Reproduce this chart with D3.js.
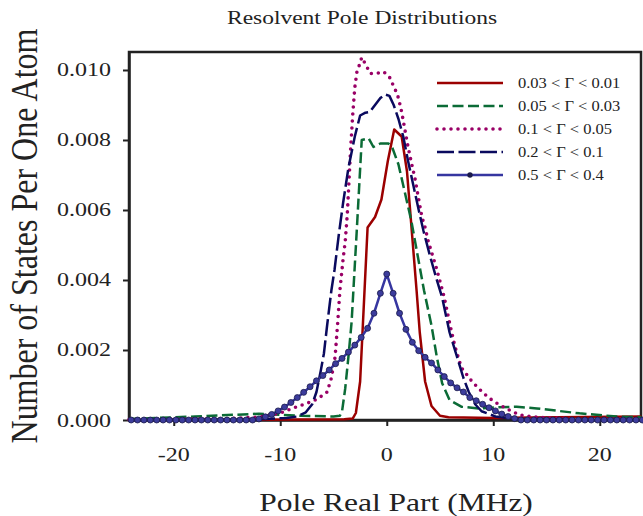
<!DOCTYPE html>
<html>
<head>
<meta charset="utf-8">
<script src="https://cdn.jsdelivr.net/npm/d3@7"></script>
<style>
body { margin: 0; background: #fff; }
text { font-family: "Liberation Serif", "Times New Roman", serif; fill: #222; }
</style>
</head>
<body>
<svg width="643" height="516"></svg>
<script>
// values (x in MHz, y in states per atom)
var redX = [-24.2, -12, -4, -3.2, -2.9, -2.5, -1.8, -1.1, -0.5, 0.1, 0.7, 1.4, 1.9, 2.8, 3.1, 3.6, 4.2, 5.0, 5.8, 10, 16, 23.9]
var redY = [0, 0.00001, 0.00002, 0.00004, 0.0002, 0.0011, 0.0055, 0.0058, 0.0063, 0.0074, 0.0083, 0.0081, 0.0071, 0.0037, 0.0025, 0.0011, 0.0004, 0.00012, 0.00008, 0.00006, 0.00008, 0.0001]

var greenX = [-24.2, -18, -12, -8, -5, -4.4, -4.2, -3.9, -3.6, -3.3, -2.8, -2.35, -1.7, -1.25, -0.6, 0.15, 0.5, 1.1, 1.7, 2.3, 2.9, 3.5, 4.2, 4.7, 5.2, 5.9, 7.0, 8.6, 10.2, 12.2, 14.1, 18.1, 21.6, 23.9]
var greenY = [0.00003, 0.0001, 0.00018, 0.00012, 0.0001, 0.00012, 0.00024, 0.0009, 0.0018, 0.0028, 0.0055, 0.008, 0.00805, 0.0078, 0.0079, 0.0079, 0.0078, 0.0073, 0.0065, 0.0057, 0.0047, 0.0037, 0.0027, 0.0018, 0.00105, 0.00057, 0.00038, 0.00033, 0.00036, 0.00038, 0.00033, 0.00019, 0.0001, 0.00008]

var purpleX = [-24.2, -16, -12, -10, -8.7, -7.3, -6.5, -5.6, -5.2, -4.85, -4.6, -4.4, -4.1, -3.9, -3.7, -3.55, -3.4, -3.2, -3.0, -2.8, -2.5, -2.35, -1.95, -1.55, -0.95, -0.3, 0.25, 0.55, 0.85, 1.1, 1.4, 1.7, 2.0, 2.35, 2.65, 3.0, 3.3, 3.6, 3.9, 4.7, 5.4, 5.95, 6.4, 7.0, 8.0, 8.7, 9.4, 10.1, 10.8, 11.4, 12.5, 14.4, 18, 23.9]
var purpleY = [0.00001, 0.00003, 0.00008, 0.0002, 0.00035, 0.0005, 0.0006, 0.0008, 0.0012, 0.0018, 0.0028, 0.0037, 0.0046, 0.0051, 0.0059, 0.0068, 0.0077, 0.0087, 0.0095, 0.00995, 0.0102, 0.01036, 0.01014, 0.0099, 0.0099, 0.00995, 0.0098, 0.0096, 0.0094, 0.0092, 0.0088, 0.0083, 0.0078, 0.0073, 0.0069, 0.0063, 0.0058, 0.0055, 0.0051, 0.0043, 0.0035, 0.0027, 0.0021, 0.0015, 0.0011, 0.00088, 0.00068, 0.00052, 0.0004, 0.0003, 0.00014, 0.00007, 0.00003, 0.00001]

var navyX = [-24.2, -12, -9.4, -8.4, -7.6, -7.0, -6.6, -6.2, -5.9, -5.6, -5.2, -4.9, -4.5, -4.1, -3.6, -3.0, -2.5, -2.0, -1.6, -1.1, -0.6, -0.15, 0.25, 0.65, 1.1, 1.55, 2.0, 2.5, 3.0, 3.45, 4.05, 4.7, 5.2, 5.9, 6.6, 7.2, 7.7, 8.3, 8.9, 10.2, 12, 23.9]
var navyY = [0, 0.00002, 0.00006, 0.0001, 0.00022, 0.00045, 0.0008, 0.0014, 0.0019, 0.0027, 0.0037, 0.0043, 0.0053, 0.0062, 0.0072, 0.0081, 0.0087, 0.00878, 0.0088, 0.009, 0.0092, 0.0093, 0.00926, 0.009, 0.0086, 0.0081, 0.0074, 0.0067, 0.006, 0.0054, 0.0047, 0.004, 0.0035, 0.0025, 0.0018, 0.0012, 0.0008, 0.00045, 0.00025, 0.0001, 0.00003, 0]

var blueX = [-24, -23.4, -22.8, -22.2, -21.6, -21, -20.4, -19.8, -19.2, -18.6, -18, -17.4, -16.8, -16.2, -15.6, -15, -14.4, -13.8, -13.2, -12.6,
    -12, -11.4, -10.8, -10.2, -9.6, -9, -8.4, -7.8, -7.2, -6.6, -6, -5.4, -4.8, -4.2, -3.6, -3, -2.4, -1.8, -1.2, -0.6, 0,
    0.6, 1.2, 1.8, 2.4, 3, 3.6, 4.2, 4.8, 5.4, 6, 6.6, 7.2, 7.8, 8.4, 9, 9.6, 10.2, 10.8, 11.4, 12,
    12.6, 13.2, 13.8, 14.4, 15, 15.6, 16.2, 16.8, 17.4, 18, 18.6, 19.2, 19.8, 20.4, 21, 21.6, 22.2, 22.8, 23.4, 24]
var blueY = [0, 0, 0, 0, 0, 0, 0, 0, 0, 0, 0, 0, 0, 0, 0, 0, 0, 0, 0, 0,
    0.00003, 0.00009, 0.00016, 0.00026, 0.00037, 0.0005, 0.00064, 0.00079, 0.00095, 0.00112, 0.00127, 0.00143, 0.00161, 0.00176, 0.00194, 0.00214, 0.00236, 0.00262, 0.00305, 0.00362, 0.00417,
    0.00362, 0.00305, 0.00259, 0.00222, 0.00198, 0.00179, 0.00163, 0.00143, 0.00124, 0.00106, 0.00092, 0.0008, 0.00064, 0.00055, 0.00045, 0.00035, 0.00026, 0.00017, 0.0001, 0.00004,
    0, 0, 0, 0, 0, 0, 0, 0, 0, 0, 0, 0, 0, 0, 0, 0, 0, 0, 0, 0]

var xTicks = [-20, -10, 0, 10, 20]
var yTicks = [0, 0.002, 0.004, 0.006, 0.008, 0.010]
var legendLabels = ["0.03 < \u0393 < 0.01", "0.05 < \u0393 < 0.03", "0.1 < \u0393 < 0.05", "0.2 < \u0393 < 0.1", "0.5 < \u0393 < 0.4"]

var svg = d3.select("svg")
var x = d3.scaleLinear().domain([-24.2, 23.87]).range([129, 641])
var y = d3.scaleLinear().domain([0, 0.010514]).range([420, 52])

var series = [
    {xs: redX, ys: redY, color: "#9b0000", dash: null, width: 2.5, cap: "butt"},
    {xs: greenX, ys: greenY, color: "#0b6b36", dash: "11,4.5", width: 2.5, cap: "butt"},
    {xs: purpleX, ys: purpleY, color: "#990066", dash: "0,7", width: 3.6, cap: "round"},
    {xs: navyX, ys: navyY, color: "#0a0a5e", dash: "17,4.5", width: 2.5, cap: "butt"},
    {xs: blueX, ys: blueY, color: "#3636a0", dash: null, width: 2.5, cap: "butt", markers: true}
]

// frame
svg.append("rect").attr("x", 129).attr("y", 52).attr("width", 512).attr("height", 368)
    .attr("style", "fill: none; stroke: #222; stroke-width: 2.5")

var gx = svg.append("g").attr("transform", "translate(0,420)")
    .call(d3.axisBottom(x).tickValues(xTicks).tickSize(6).tickSizeOuter(0).tickFormat(""))
var gy = svg.append("g").attr("transform", "translate(129,0)")
    .call(d3.axisLeft(y).tickValues(yTicks).tickSize(6).tickSizeOuter(0).tickFormat(""))
svg.selectAll(".domain").attr("stroke", "#222").attr("stroke-width", 2.5)
svg.selectAll(".tick line").attr("stroke", "#222").attr("stroke-width", 2)

// tick labels (stretched serif like the original)
xTicks.forEach(function(v) {
    svg.append("text").attr("text-anchor", "middle").attr("font-size", 24)
        .attr("transform", "translate(" + x(v) + ",461) scale(1,0.8)")
        .text(v)
})
yTicks.forEach(function(v) {
    svg.append("text").attr("text-anchor", "end").attr("font-size", 24)
        .attr("transform", "translate(111," + (y(v) + 6.5) + ") scale(1,0.8)")
        .text(d3.format(".3f")(v))
})

svg.append("text").attr("text-anchor", "middle").attr("font-size", 23.5)
    .attr("transform", "translate(362,24) scale(1,0.84)")
    .text("Resolvent Pole Distributions")
svg.append("text").attr("text-anchor", "middle").attr("font-size", 31.5)
    .attr("transform", "translate(396,511) scale(1,0.8)")
    .text("Pole Real Part (MHz)")
svg.append("text").attr("text-anchor", "middle").attr("font-size", 37)
    .attr("transform", "translate(37,236) rotate(-90) scale(0.865,1)")
    .text("Number of States Per One Atom")

// curves
var line = d3.line().x(function(d) { return x(d[0]) }).y(function(d) { return y(d[1]) })
series.forEach(function(s) {
    var pts = s.xs.map(function(v, i) { return [v, s.ys[i]] })
    svg.append("path").attr("d", line(pts))
        .attr("fill", "none").attr("stroke", s.color).attr("stroke-width", s.width)
        .attr("stroke-dasharray", s.dash).attr("stroke-linecap", s.cap).attr("stroke-linejoin", "round")
    if (s.markers) {
        svg.append("g").selectAll("circle").data(pts).enter().append("circle")
            .attr("cx", function(d) { return x(d[0]) }).attr("cy", function(d) { return y(d[1]) })
            .attr("r", 3).attr("fill", "#3c3c9c").attr("stroke", "#1a1a4a").attr("stroke-width", 0.8)
    }
})

// legend
var legend = svg.append("g")
series.forEach(function(s, i) {
    var ly = 83 + i * 23
    legend.append("line").attr("x1", 437).attr("x2", 503).attr("y1", ly).attr("y2", ly)
        .attr("stroke", s.color).attr("stroke-width", s.width)
        .attr("stroke-dasharray", s.dash).attr("stroke-linecap", s.cap)
    if (s.markers) {
        legend.append("circle").attr("cx", 470).attr("cy", ly).attr("r", 2.7)
            .attr("fill", "#1a1a4a")
    }
    legend.append("text").attr("font-size", 16.5)
        .attr("transform", "translate(518," + (ly + 5) + ") scale(1,0.92)")
        .text(legendLabels[i])
})
</script>
</body>
</html>
